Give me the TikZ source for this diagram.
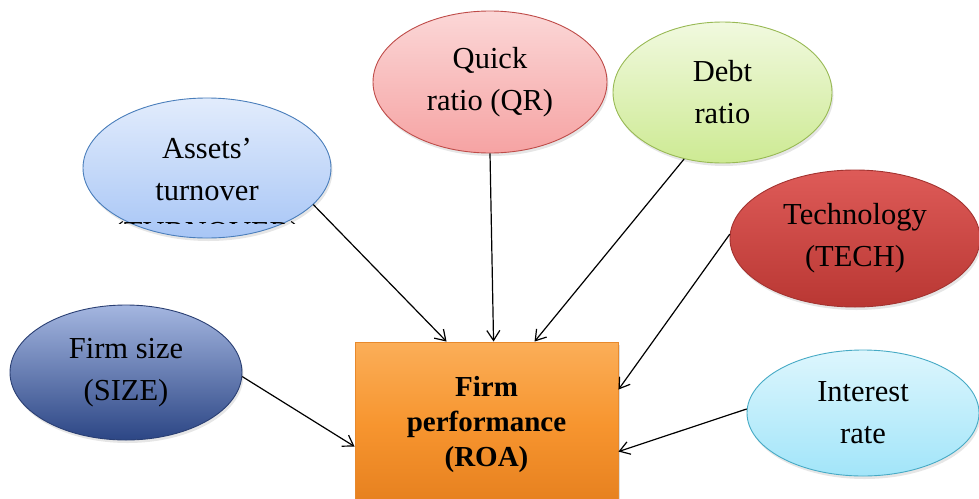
\documentclass[tikz,border=0pt]{standalone}
\usepackage{fontspec}
\setmainfont{Liberation Serif}
\usetikzlibrary{shapes.geometric,arrows.meta,shadows,calc}

\definecolor{orangetop}{HTML}{FBAE58}
\definecolor{orangemid}{HTML}{F7952F}
\definecolor{orangebot}{HTML}{E57F1E}
\definecolor{orangeline}{HTML}{E8892C}

\definecolor{assetstop}{HTML}{E2ECFC}
\definecolor{assetsbot}{HTML}{A8C6F6}
\definecolor{assetsline}{HTML}{4A7EBB}

\definecolor{quicktop}{HTML}{FBD7D7}
\definecolor{quickbot}{HTML}{F6A3A3}
\definecolor{quickline}{HTML}{BE4B48}

\definecolor{debttop}{HTML}{F1F9DF}
\definecolor{debtbot}{HTML}{CDEA93}
\definecolor{debtline}{HTML}{98B954}

\definecolor{techtop}{HTML}{DE5B58}
\definecolor{techmid}{HTML}{D2443F}
\definecolor{techbot}{HTML}{B93733}
\definecolor{techline}{HTML}{A33330}

\definecolor{sizetop}{HTML}{A4B6E0}
\definecolor{sizemid}{HTML}{5A74B2}
\definecolor{sizebot}{HTML}{2C4685}
\definecolor{sizeline}{HTML}{2A3F73}

\definecolor{inttop}{HTML}{DDF6FD}
\definecolor{intbot}{HTML}{A2E5F9}
\definecolor{intline}{HTML}{46AAC5}

\tikzset{
  factor/.style={ellipse, inner sep=0pt, align=center, draw, line width=0.9pt,
    font=\fontsize{30.5}{42}\selectfont,
    drop shadow={opacity=0.2, shadow xshift=1.5pt, shadow yshift=-3pt}},
  factortext/.style={font=\fontsize{30.5}{42}\selectfont, anchor=base, inner sep=0pt},
  outcome/.style={rectangle, inner sep=0pt, align=center, draw=orangeline, line width=0.9pt,
    top color=orangetop, bottom color=orangebot, middle color=orangemid,
    font=\fontsize{29}{35}\selectfont\bfseries,
    drop shadow={opacity=0.25, shadow xshift=2pt, shadow yshift=-3pt}},
  link/.style={-{Straight Barb[length=10pt,width=13pt,line width=1.2pt]}, line width=1.2pt, black}
}

\begin{document}
\begin{tikzpicture}[x=1pt, y=-1pt]
  \useasboundingbox (0,0) rectangle (979,498);

  % outcome box
  \node[outcome, minimum width=263pt, minimum height=166pt] (roa) at (486.5,425)
    {Firm\\performance\\(ROA)};

  % explanatory factors
  \node[factor, minimum width=248pt, minimum height=140pt,
        draw=assetsline, top color=assetstop, bottom color=assetsbot]
        (assets) at (207,168) {};
  \node[factortext] (assets1) at (207,158) {Assets’};
  \node[factortext] (assets2) at (207,200) {turnover};
  \begin{scope}
    % third line of the label, cut off by its text frame
    \clip (100,150) rectangle (320,223);
    \node[factortext] (assets3) at (207,242.5) {(TURNOVER)};
  \end{scope}

  \node[factor, minimum width=234pt, minimum height=142pt,
        draw=quickline, top color=quicktop, bottom color=quickbot]
        (quick) at (490,82) {Quick\\ratio (QR)};

  \node[factor, minimum width=219pt, minimum height=141pt,
        draw=debtline, top color=debttop, bottom color=debtbot]
        (debt) at (722.5,92.5) {Debt\\ratio};

  \node[factor, minimum width=250pt, minimum height=137pt,
        draw=techline, top color=techtop, middle color=techmid, bottom color=techbot]
        (tech) at (855,238.5) {Technology\\(TECH)};

  \node[factor, minimum width=232pt, minimum height=135pt,
        draw=sizeline, top color=sizetop, middle color=sizemid, bottom color=sizebot]
        (size) at (126,372.5) {Firm size\\(SIZE)};

  \node[factor, minimum width=232pt, minimum height=126pt,
        draw=intline, top color=inttop, bottom color=intbot]
        (interest) at (863,413) {Interest\\rate};

  % influence arrows
  \draw[link] (assets.-19)  -- ($(roa.north west)+(92,0)$);
  \draw[link] (quick.south) -- ($(roa.north west)+(139,0)$);
  \draw[link] (debt.-120)   -- ($(roa.north west)+(180,0)$);
  \draw[link] (tech.178)    -- ($(roa.north east)+(0,48)$);
  \draw[link] (size.-2)     -- ($(roa.north west)+(0,105)$);
  \draw[link] (interest.178) -- ($(roa.north east)+(0,110)$);
\end{tikzpicture}
\end{document}
